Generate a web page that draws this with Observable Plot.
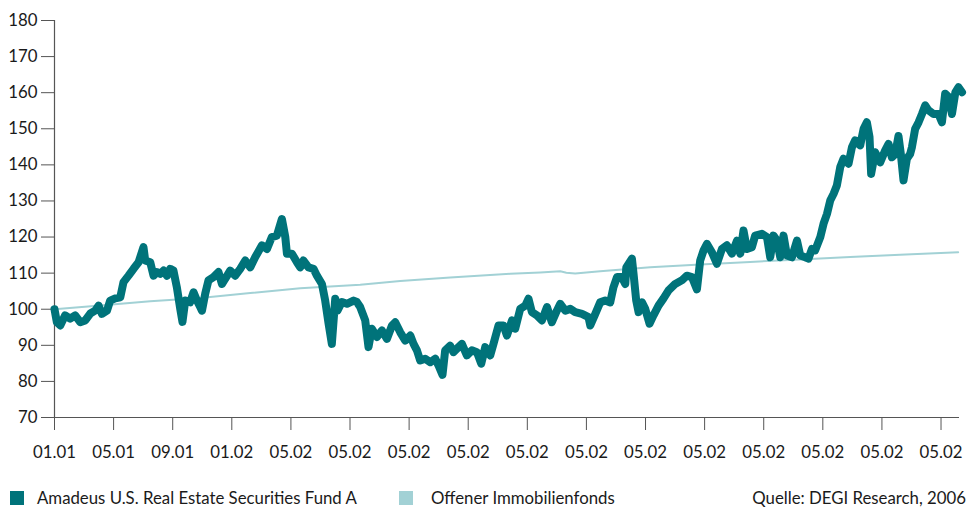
<!DOCTYPE html>
<html>
<head>
<meta charset="utf-8">
<script src="https://cdn.jsdelivr.net/npm/d3@7"></script>
<script src="https://cdn.jsdelivr.net/npm/@observablehq/plot@0.6"></script>
<style>
  body { margin: 0; background: #fff; font-family: Lato, "Open Sans", sans-serif; }
  #wrap { position: relative; width: 967px; height: 509px; overflow: hidden; }
  #chart svg { display: block; }
  .lg { position: absolute; font-size: 16.8px; line-height: 20px; color: #1a1a1a; white-space: nowrap; }
  .sw { position: absolute; width: 14px; height: 14px; }
</style>
</head>
<body>
<div id="wrap">
  <div id="chart"></div>
  <div class="sw" style="left:10px;top:491px;background:#00737a"></div>
  <div class="lg" style="left:37px;top:488px">Amadeus U.S. Real Estate Securities Fund A</div>
  <div class="sw" style="left:399px;top:491px;background:#a2d1d5"></div>
  <div class="lg" style="left:431px;top:488px">Offener Immobilienfonds</div>
  <div class="lg" style="right:1px;top:488px">Quelle: DEGI Research, 2006</div>
</div>
<script>
// Months elapsed since January 2001 and the fund's indexed value (start = 100)
const fundMonths = [
  0, 0.16, 0.39, 0.72, 1.06, 1.40, 1.74, 2.08, 2.42, 2.75, 2.98, 3.21, 3.55, 3.77, 4.11, 4.45,
  4.67, 5.01, 5.35, 5.69, 6.02, 6.14, 6.48, 6.70, 6.93, 7.15, 7.38, 7.61, 7.83, 8.05, 8.28, 8.51,
  8.66, 8.85, 9.18, 9.41, 9.64, 9.86, 9.98, 10.20, 10.42, 10.76, 11.10, 11.33, 11.55, 11.89, 12.23,
  12.57, 12.91, 13.25, 13.58, 14.04, 14.38, 14.71, 15.05, 15.39, 15.62, 15.73, 16.07, 16.41, 16.63,
  16.85, 17.19, 17.53, 17.76, 18.10, 18.32, 18.55, 18.77, 19.00, 19.15, 19.45, 19.79, 20.24, 20.46,
  20.69, 21.03, 21.25, 21.48, 21.82, 22.16, 22.50, 22.84, 23.06, 23.40, 23.74, 24.08, 24.30, 24.53,
  24.75, 25.09, 25.43, 25.77, 25.99, 26.26, 26.44, 26.78, 27.00, 27.34, 27.57, 27.91, 28.25, 28.59,
  28.88, 29.15, 29.49, 29.71, 30.05, 30.39, 30.62, 30.96, 31.18, 31.52, 31.86, 32.08, 32.31, 32.65,
  32.99, 33.33, 33.66, 34.00, 34.23, 34.57, 34.91, 35.24, 35.70, 36.14, 36.26, 36.60, 36.93, 37.27,
  37.61, 37.83, 38.07, 38.40, 38.63, 38.70, 39.08, 39.19, 39.37, 39.53, 39.76, 39.98, 40.27, 40.54,
  40.88, 41.22, 41.56, 42.01, 42.46, 42.80, 43.14, 43.48, 43.70, 43.93, 44.16, 44.49, 44.83, 45.17,
  45.51, 45.85, 46.19, 46.41, 46.63, 46.86, 47.20, 47.42, 47.88, 48.22, 48.44, 48.66, 48.90, 49.12,
  49.34, 49.57, 49.91, 50.25, 50.47, 50.81, 51.03, 51.26, 51.48, 51.83, 52.05, 52.28, 52.50, 52.73,
  52.95, 53.18, 53.40, 53.74, 53.97, 54.19, 54.53, 54.76, 54.98, 55.16, 55.27, 55.54, 55.88, 56.22,
  56.45, 56.67, 56.90, 57.12, 57.28, 57.46, 57.69, 57.91, 58.03, 58.25, 58.48, 58.71, 58.93, 59.15,
  59.49, 59.83, 60.06, 60.28, 60.51, 60.74, 60.97, 61.18, 61.42
];
const fundValues = [
  100, 96.4, 95.5, 98.3, 97.4, 98.3, 96.4, 96.9, 98.8, 99.6, 101.0, 98.7, 99.6, 102.4, 103, 103.3,
  107.5, 109.3, 111.2, 113, 117.2, 113.5, 113, 109.3, 110.3, 109.8, 110.7, 109.3, 111.2, 110.7, 106.1, 100.1,
  96.5, 102.4, 101.9, 104.7, 102.4, 100.6, 99.6, 104.3, 108, 108.9, 110.3, 107, 108.4, 110.7, 109.3,
  111.2, 113.5, 111.6, 114.4, 117.7, 116.7, 120, 120.4, 125, 120, 115.4, 115.4, 113, 111.6,
  113.5, 111.6, 111.2, 109.3, 107, 102.4, 96, 90.4, 102.9, 99.6, 102, 101.5, 102.4, 102.0,
  100.6, 96.9, 89.5, 94.6, 92.3, 94.1, 91.8, 95.5, 96.4, 93.6, 91.3, 92.7, 90.4, 88.6,
  85.8, 86.3, 85.3, 86.3, 84.4, 81.8, 88.6, 89.9, 88.1, 89.5, 90.4, 87.2, 88.6, 88.1,
  84.9, 89.5, 87.2, 90.4, 95.5, 95.5, 92.7, 96.9, 94.6, 100.1, 101.0, 102.9, 99.2, 98.3,
  96.9, 100.6, 96.4, 99.6, 101.5, 99.6, 100.1, 99.2, 98.7, 97.8, 95.5, 98.7, 101.9, 102.4,
  101.9, 106.1, 108.9, 108.9, 107, 111.6, 114, 109.8, 102.4, 99.2, 101.9, 100.1, 96, 98.3,
  101, 103, 105.2, 107, 108, 109.3, 108.9, 105.5, 113.5, 116.3, 118.1, 115.8, 112.6, 116.7,
  117.7, 115.4, 119, 115.4, 121.8, 116.7, 117.2, 120.4, 120.9, 120, 114.4, 120.4, 119, 114.4,
  120.4, 114.9, 114.4, 119, 114.9, 114.4, 114, 116.7, 116.3, 120, 123.7, 126.4, 130.1, 132,
  134.3, 139.4, 141.7, 140.3, 144.9, 146.8, 145.4, 150, 151.8, 147.7, 137.5, 143.5, 140.7, 144,
  145.8, 142.1, 143, 148, 143, 135.7, 141.7, 143, 144.9, 150, 151.8, 154.1, 156.5, 155.1,
  154.1, 154.1, 151.8, 159.7, 158.8, 154.1, 160.1, 161.5, 160.1
];

// Open-ended real estate fund benchmark, same index base
const benchMonths = [0, 3.09, 6.48, 9.86, 13.25, 16.63, 18.66, 20.69, 23.40, 26.78, 30.84, 32.87,
  34.23, 34.64, 35.24, 36.93, 40.32, 43.70, 47.08, 50.47, 53.85, 57.23, 61.16];
const benchValues = [100, 101, 102.2, 103.1, 104.5, 105.8, 106.3, 106.8, 107.8, 108.8, 109.8, 110.2,
  110.5, 110.1, 109.9, 110.5, 111.6, 112.4, 113.1, 113.8, 114.5, 115.1, 115.8];

// Axis ticks: every four months along x, every 10 index points along y
const tickMonths = [0, 4, 8, 12, 16, 20, 24, 28, 32, 36, 40, 44, 48, 52, 56, 60];
const tickLabels = ["01.01", "05.01", "09.01", "01.02", "05.02", "05.02", "05.02", "05.02",
  "05.02", "05.02", "05.02", "05.02", "05.02", "05.02", "05.02", "05.02"];
const yTicks = [70, 80, 90, 100, 110, 120, 130, 140, 150, 160, 170, 180];

const fund = fundMonths.map((m, i) => ({m, v: fundValues[i]}));
const bench = benchMonths.map((m, i) => ({m, v: benchValues[i]}));

const axisColor = "#555";
const textColor = "#1a1a1a";

const chart = Plot.plot({
  width: 967,
  height: 480,
  marginLeft: 54,
  marginRight: 8,
  marginTop: 20,
  marginBottom: 63,
  style: {fontFamily: "Lato, 'Open Sans', sans-serif", fontSize: "16.8px", color: textColor, background: "#fff"},
  x: {domain: [0, 61.25], axis: null},
  y: {domain: [70, 180], axis: null},
  marks: [
    Plot.axisY({ticks: yTicks, tickSize: 13, tickPadding: 4, stroke: axisColor, fill: textColor, label: null, fontSize: 16.8}),
    Plot.axisX({ticks: tickMonths, tickFormat: d => tickLabels[tickMonths.indexOf(d)], tickSize: 13, tickPadding: 16,
      stroke: axisColor, fill: textColor, label: null, fontSize: 16.8}),
    Plot.ruleX([0], {y1: 70, y2: 180, stroke: axisColor, strokeWidth: 1.2}),
    Plot.ruleY([70], {stroke: axisColor, strokeWidth: 1.2}),
    Plot.line(bench, {x: "m", y: "v", stroke: "#a2d1d5", strokeWidth: 2, curve: "linear"}),
    Plot.line(fund, {x: "m", y: "v", stroke: "#00737a", strokeWidth: 8, strokeLinejoin: "round", strokeLinecap: "round"})
  ]
});
document.getElementById("chart").appendChild(chart);
</script>
</body>
</html>
